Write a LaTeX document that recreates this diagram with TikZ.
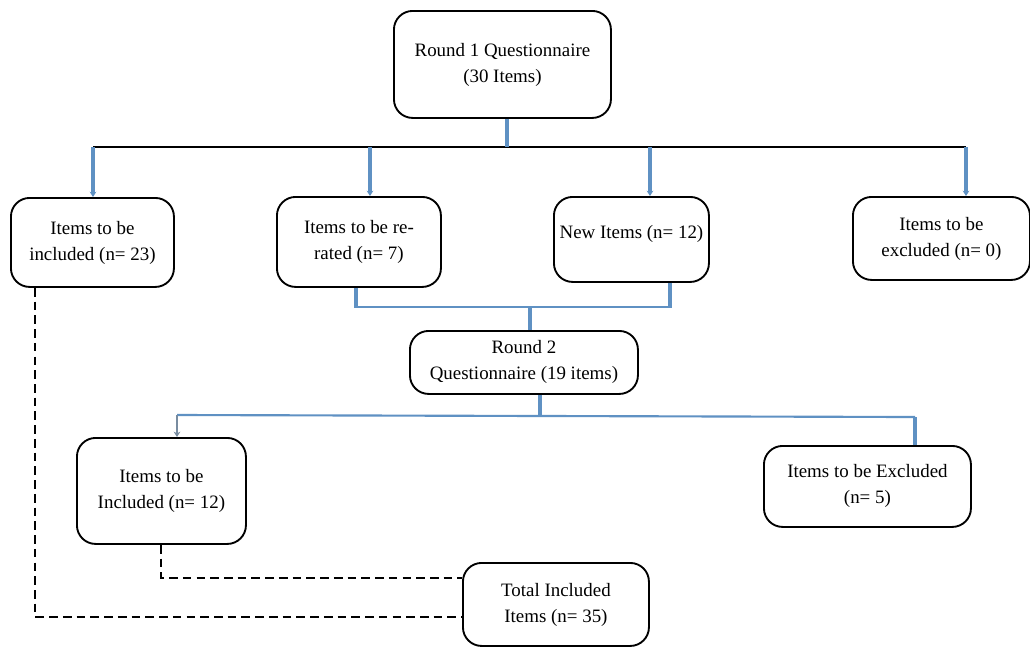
\documentclass[tikz,border=0pt]{standalone}
\usepackage{fontspec}
\setmainfont{Liberation Serif}
\usetikzlibrary{arrows.meta}
\definecolor{lineblue}{RGB}{95,145,195}
\definecolor{arrowgrey}{RGB}{120,140,160}
\begin{document}
\begin{tikzpicture}[x=0.75pt,y=-0.75pt,
  box/.style={draw=black,line width=1.4pt,rounded corners=14pt,align=center,
    font=\fontsize{14.2}{19.5}\selectfont,inner sep=0pt,anchor=north west},
  blueline/.style={draw=lineblue,line width=1.6pt},
  bluestub/.style={draw=lineblue,line width=3.2pt},
  drop/.style={draw=lineblue,line width=2.4pt,-{Stealth[length=4pt,width=5pt]}},
  dashline/.style={draw=black,line width=1.3pt,dash pattern=on 6.5pt off 3.8pt}]
\useasboundingbox (0,0) rectangle (1030,647);
% boxes
\node[box,minimum width=162.75pt,minimum height=80.25pt] (r1) at (393,10) {Round 1 Questionnaire\\(30 Items)\\[-17pt]};
\node[box,minimum width=122.25pt,minimum height=66.75pt] (a) at (10,197) {Items to be\\included (n= 23)\\[-17pt]};
\node[box,minimum width=123pt,minimum height=67.5pt] (b) at (276,196) {Items to be re-\\rated (n= 7)\\[-17pt]};
\node[box,minimum width=116.25pt,minimum height=63.75pt] (c) at (553,196) {New Items (n= 12)\\[-8pt]};
\node[box,minimum width=132.75pt,minimum height=62.25pt] (d) at (852,196) {Items to be\\excluded (n= 0)\\[-17pt]};
\node[box,minimum width=171pt,minimum height=47.25pt] (r2) at (409,330) {Round 2\\Questionnaire (19 items)};
\node[box,minimum width=126.75pt,minimum height=79.5pt] (e) at (76,437) {Items to be\\Included (n= 12)\\[-17pt]};
\node[box,minimum width=155.25pt,minimum height=60.75pt] (f) at (763,445) {Items to be Excluded\\(n= 5)};
\node[box,minimum width=139.5pt,minimum height=62.25pt] (g) at (462,562) {Total Included\\Items (n= 35)};
% top tree
\coordinate (h1) at (93,147);
\coordinate (h2) at (966,147);
\draw[black,line width=1.5pt] (h1) -- (h2);
\draw[bluestub] (r1.south -| 507,0) -- (507,147);
\draw[drop] (h1) -- (a.north -| h1);
\draw[drop] (370,147) -- (b.north -| 370,0);
\draw[drop] (650,147) -- (c.north -| 650,0);
\draw[drop] (h2) -- (d.north -| h2);
% bracket to round 2
\draw[blueline] (356,307) -- (670,307);
\draw[bluestub] (b.south -| 356,0) -- (356,308);
\draw[bluestub] (c.south -| 670,0) -- (670,308);
\draw[bluestub,line width=2.4pt] (530,307) -- (r2.north -| 530,0);
% round 2 tree
\draw[blueline] (177,415) -- (915,417);
\draw[bluestub] (r2.south -| 540,0) -- (540,416);
\draw[draw=arrowgrey,line width=2pt,-{Stealth[length=4pt,width=5pt]}] (177,415) -- (e.north -| 177,0);
\draw[blueline,line width=2.4pt] (915,417) -- (f.north -| 915,0);
% dashed
\draw[dashline] (e.south -| 161,0) |- (g.west |- 0,578);
\draw[dashline] (a.south -| 35,0) |- (g.west |- 0,617);
\end{tikzpicture}
\end{document}
